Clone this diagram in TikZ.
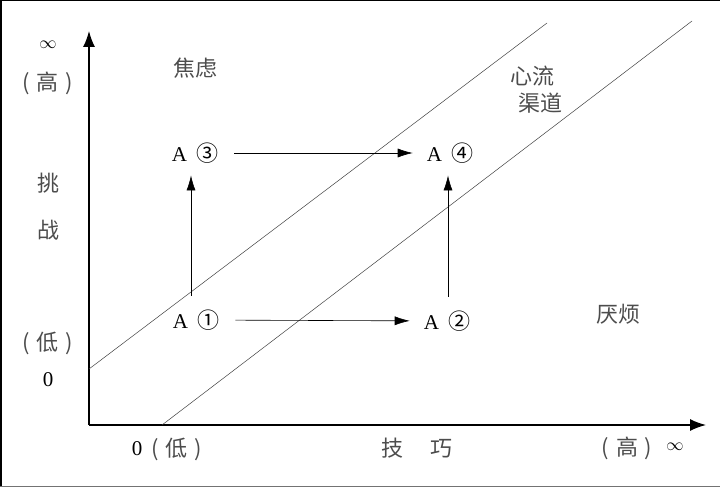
\documentclass[tikz,border=0pt]{standalone}
\usepackage{fontspec}
\setmainfont{Liberation Serif}
\newfontfamily\cjk{Noto Sans CJK SC}
\usetikzlibrary{arrows.meta}
\newcommand{\bracketed}[1]{(\hspace{7pt}{\cjk #1}\hspace{7pt})}
\begin{document}
\begin{tikzpicture}[x=1pt, y=-1pt,
    zh/.style={font=\cjk\fontsize{22}{24}\selectfont, text=black!70, inner sep=0pt},
    lat/.style={font=\fontsize{21}{23}\selectfont, inner sep=0pt},
    state/.style={font=\fontsize{21}{23}\selectfont, inner sep=0pt},
    move/.style={-{Latex[length=15pt,width=9pt]}, line width=0.6pt},
    axis/.style={-{Latex[length=16pt,width=12pt]}, line width=1.4pt},
    channel/.style={black!75, line width=0.5pt}]
    \useasboundingbox (0,0) rectangle (720,487);
    % scan border
    \draw[line width=1.5pt] (0,0.75) -- (720,0.75);
    \draw[line width=1.5pt] (0.75,0) -- (0.75,487);
    \draw[black!55, line width=1pt] (0,486) -- (720,486);
    % axes
    \coordinate (o) at (89,425);
    \coordinate (ytop) at (89,31);
    \coordinate (xend) at (706,425);
    \draw[axis] (o) -- (ytop);
    \draw[axis] (o) -- (xend);
    % flow channel
    \coordinate (u1) at (89,369);
    \coordinate (u2) at (547,23);
    \coordinate (l1) at (162,425);
    \coordinate (l2) at (692,21);
    \draw[channel] (u1) -- (u2);
    \draw[channel] (l1) -- (l2);
    % states
    \newcommand{\st}[1]{A\hspace{9pt}{\cjk\fontsize{22}{24}\selectfont #1}}
    \node[state] (a1) at (196,320) {\st{①}};
    \node[state] (a2) at (447,321) {\st{②}};
    \node[state] (a3) at (195,153) {\st{③}};
    \node[state] (a4) at (450,153) {\st{④}};
    \draw[move, shorten <=16pt, shorten >=14pt] (a1) -- (a2);
    \draw[move, shorten <=16pt, shorten >=14pt] (a3) -- (a4);
    \draw[move, shorten <=14pt, shorten >=12pt] ([xshift=-5pt]a1.north) -- ([xshift=-4pt]a3.south);
    \draw[move, shorten <=14pt, shorten >=12pt] ([xshift=1pt]a2.north) -- ([xshift=-2pt]a4.south);
    % regions
    \node[zh] (anx) at (195,68) {焦虑};
    \node[zh] (flow1) at (532,76) {心流};
    \node[zh] (flow2) at (540,103) {渠道};
    \node[zh] (bore) at (618,314) {厌烦};
    % y labels
    \node[font=\fontsize{16}{18}\selectfont] (yinf) at (48,45) {$\infty$};
    \node[zh] (yhi) at (48,83) {\bracketed{高}};
    \node[zh] (tiao) at (48,183) {挑};
    \node[zh] (zhan) at (48,230) {战};
    \node[zh] (ylo) at (48,343) {\bracketed{低}};
    \node[lat] (yzero) at (48,380) {0};
    % x labels
    \node[lat] (xzero) at (137,449) {0};
    \node[zh] (xlo) at (177,449) {\bracketed{低}};
    \node[zh] (skill) at (417,448) {技\hspace{27pt}巧};
    \node[zh] (xhi) at (627,448) {\bracketed{高}};
    \node[font=\fontsize{16}{18}\selectfont] (xinf) at (675,447) {$\infty$};
\end{tikzpicture}
\end{document}
